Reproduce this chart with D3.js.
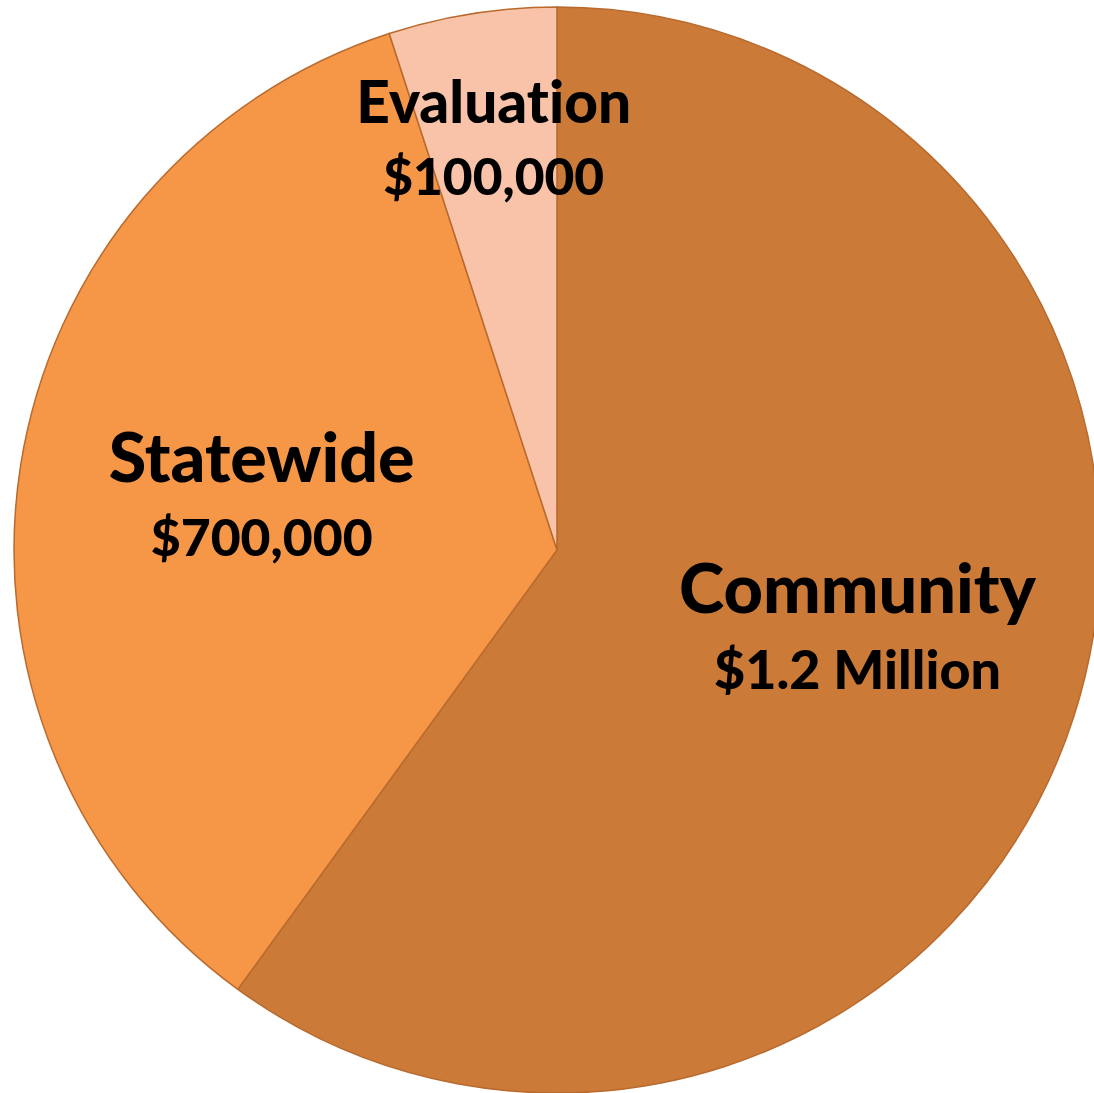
<!DOCTYPE html>
<html>
<head>
<meta charset="utf-8">
<script src="https://cdn.jsdelivr.net/npm/d3@7"></script>
<style>
  body { margin: 0; background: #fff; }
  svg { display: block; }
  text { font-family: Lato, "Open Sans", sans-serif; font-weight: 900; fill: #000; font-variant-ligatures: none; }
</style>
</head>
<body>
<svg width="1094" height="1093"></svg>
<script>
// Datos del gráfico
const categorias = ['Community', 'Statewide', 'Evaluation'];
const valores = [1200000, 700000, 100000];
const etiquetasMonto = ['$1.2 Million', '$700,000', '$100,000'];
const colores = ['#CB7A38', '#F69647', '#F8C3A8'];

const svg = d3.select('svg');
const ancho = +svg.attr('width');
const alto = +svg.attr('height');

const centroX = 557;
const centroY = 550;
const radio = 543;

// posición y tamaño de las etiquetas (radio del centroide, ancho objetivo de cada línea)
const radioEtiqueta = [316, 299, 405];
const anchoTitulo = [357, 306, 275];
const anchoMonto = [287, 222, 221];
const desplazamiento = [[-61, 20], [-47, 33], [-50, 25]];

const grupo = svg.append('g')
    .attr('transform', `translate(${centroX}, ${centroY})`);

const pie = d3.pie().sort(null).value(d => d);
const arcos = pie(valores);

const arco = d3.arc().innerRadius(0).outerRadius(radio);

grupo.selectAll('path')
    .data(arcos)
    .join('path')
        .attr('d', arco)
        .attr('fill', (d, i) => colores[i])
        .attr('stroke', '#B96A2E')
        .attr('stroke-width', 1.5)
        .attr('stroke-linejoin', 'round');

// ajusta el tamaño de letra para que el texto ocupe el ancho deseado
function ajustar(texto, objetivo) {
    texto.attr('font-size', 60);
    const w = texto.node().getComputedTextLength();
    texto.attr('font-size', 60 * objetivo / w);
}

arcos.forEach((d, i) => {
    const c = d3.arc().innerRadius(radioEtiqueta[i]).outerRadius(radioEtiqueta[i]).centroid(d);
    const t1 = grupo.append('text')
        .attr('x', c[0])
        .attr('y', c[1] + desplazamiento[i][0])
        .attr('text-anchor', 'middle')
        .attr('dominant-baseline', 'central')
        .text(categorias[i]);
    ajustar(t1, anchoTitulo[i]);
    const t2 = grupo.append('text')
        .attr('x', c[0])
        .attr('y', c[1] + desplazamiento[i][1])
        .attr('text-anchor', 'middle')
        .attr('dominant-baseline', 'central')
        .text(etiquetasMonto[i]);
    ajustar(t2, anchoMonto[i]);
});
</script>
</body>
</html>
